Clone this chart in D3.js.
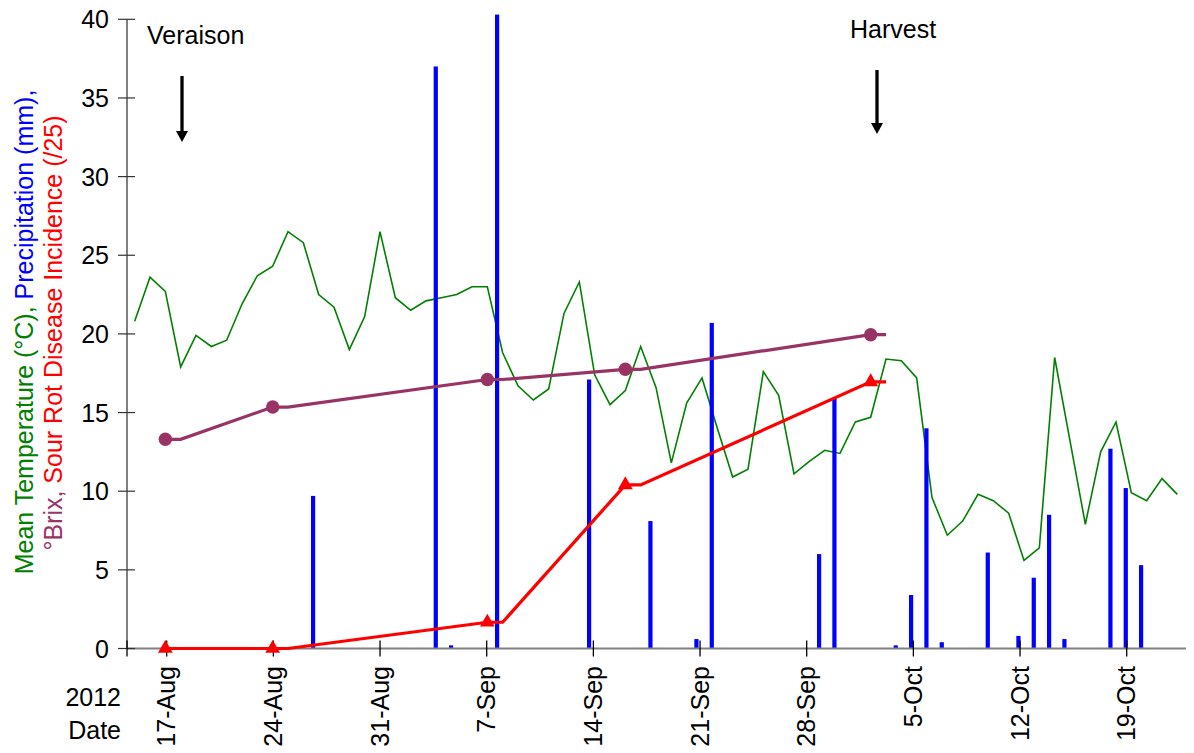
<!DOCTYPE html>
<html><head><meta charset="utf-8">
<script src="https://cdn.jsdelivr.net/npm/d3@7"></script>
<style>
html,body{margin:0;padding:0;background:#fff;}
svg{display:block;font-family:"Liberation Sans",Arial,sans-serif;}
</style></head>
<body>
<svg id="chart" width="1194" height="753"></svg>
<script>
// ---------------- data ----------------
const firstDay = "2012-08-15", lastDay = "2012-10-22";
// Mean daily temperature (°C), 15-Aug ... 22-Oct 2012
const temperature = [
  20.8,23.6,22.7,17.9,19.9,19.2,19.6,21.9,23.7,24.3,26.5,25.8,22.5,21.7,19.0,21.1,26.5, // Aug 15-31
  22.3,21.5,22.1,22.3,22.5,23.0,23.0,18.8,16.7,15.8,16.5,21.3,23.3,17.4,15.5,16.4,19.2,16.6,
  11.8,15.6,17.2,14.0,10.9,11.4,17.6,16.1,11.1,11.9,12.6,12.4,                           // Sep 1-30
  14.4,14.7,18.4,18.3,17.2,9.6,7.2,8.1,9.8,9.4,8.6,5.6,6.4,18.5,13.2,7.9,12.5,14.4,9.9,9.4,10.8,9.8 // Oct 1-22
];
const precipDates = ["2012-08-27","2012-09-04","2012-09-05","2012-09-08","2012-09-14","2012-09-18",
  "2012-09-21","2012-09-22","2012-09-29","2012-09-30","2012-10-04","2012-10-05","2012-10-06","2012-10-07",
  "2012-10-10","2012-10-12","2012-10-13","2012-10-14","2012-10-15","2012-10-18","2012-10-19","2012-10-20"];
const precipitation = [9.7,37.0,0.2,40.3,17.1,8.1,0.6,20.7,6.0,15.9,0.2,3.4,14.0,0.4,6.1,0.8,4.5,8.5,0.6,12.7,10.2,5.3];
const sampleDates = ["2012-08-17","2012-08-24","2012-09-07","2012-09-16","2012-10-02"];
const brix = [13.3,15.35,17.1,17.75,19.95];
const sourRot = [0,0,1.67,10.4,16.95];
const tickDates = ["2012-08-17","2012-08-24","2012-08-31","2012-09-07","2012-09-14","2012-09-21","2012-09-28","2012-10-05","2012-10-12","2012-10-19"];
const tickLabels = ["17-Aug","24-Aug","31-Aug","7-Sep","14-Sep","21-Sep","28-Sep","5-Oct","12-Oct","19-Oct"];
const yTicks = [0,5,10,15,20,25,30,35,40];

// ---------------- setup ----------------
const parse = d3.utcParse("%Y-%m-%d");
const fmt = d3.utcFormat("%Y-%m-%d");
const days = d3.utcDay.range(parse(firstDay), d3.utcDay.offset(parse(lastDay),1)).map(fmt);

const svg = d3.select("#chart");
const FONT = 25;
const x = d3.scaleBand().domain(days).range([127,1185]).padding(0);
const xc = d => x(d) + x.bandwidth()/2;
const xt = d3.scaleUtc().domain([parse("2012-08-17"), parse("2012-10-19")]).range([166.7,1126.7]);
const y = d3.scaleLinear().domain([0,40]).range([648.5,19.3]);
const nextDay = d => fmt(d3.utcDay.offset(parse(d),1));

// temperature line
svg.append("path")
  .datum(temperature.map((v,i)=>({d:days[i],v})))
  .attr("fill","none").attr("stroke","#008000").attr("stroke-width",1.6).attr("stroke-linejoin","miter")
  .attr("d", d3.line().x(p=>xc(p.d)).y(p=>y(p.v)));

// precipitation bars
svg.append("g").selectAll("rect").data(precipDates.map((d,i)=>({d,v:precipitation[i]})))
  .join("rect")
  .attr("x", p=>x(p.d)).attr("width",4.2)
  .attr("y", p=>y(p.v)).attr("height", p=>y(0)-y(p.v))
  .attr("fill","#0000FF");

// axes
const ax = svg.append("g");
ax.append("line").attr("x1",127).attr("x2",127).attr("y1",y(40)).attr("y2",y(0))
  .attr("stroke","#808080").attr("stroke-width",2);
ax.append("line").attr("x1",127).attr("x2",1186).attr("y1",y(0)).attr("y2",y(0))
  .attr("stroke","#808080").attr("stroke-width",2);
ax.selectAll(".yt").data(yTicks).join("line")
  .attr("x1",118).attr("x2",135).attr("y1",d=>y(d)).attr("y2",d=>y(d))
  .attr("stroke","#333").attr("stroke-width",1.2);
ax.selectAll(".ytl").data(yTicks).join("text")
  .attr("x",109).attr("y",d=>y(d)+9).attr("text-anchor","end")
  .attr("font-size",FONT).attr("fill","#000").text(d=>d);
ax.selectAll(".xt").data(tickDates).join("line")
  .attr("x1",d=>xt(parse(d))).attr("x2",d=>xt(parse(d)))
  .attr("y1",y(0)-8).attr("y2",y(0)+8)
  .attr("stroke","#000").attr("stroke-width",1.3);
ax.append("line").attr("x1",127).attr("x2",127).attr("y1",y(0)-8).attr("y2",y(0)+8)
  .attr("stroke","#000").attr("stroke-width",1.3);
ax.selectAll(".xtl").data(tickDates).join("text")
  .attr("transform",(d,i)=>`translate(${xt(parse(d))+8.5},${666}) rotate(-90)`)
  .attr("text-anchor","end").attr("font-size",FONT).attr("fill","#000")
  .text((d,i)=>tickLabels[i]);
svg.append("text").attr("x",121).attr("y",706).attr("text-anchor","end").attr("font-size",FONT).text("2012");
svg.append("text").attr("x",121).attr("y",739).attr("text-anchor","end").attr("font-size",FONT).text("Date");

// brix line
function stepPts(vals){
  const pts=[];
  sampleDates.forEach((d,i)=>{pts.push({d,v:vals[i]}); pts.push({d:nextDay(d),v:vals[i]});});
  return pts;
}
const line2 = d3.line().x(p=>xc(p.d)).y(p=>y(p.v));
svg.append("path").datum(stepPts(brix))
  .attr("fill","none").attr("stroke","#993366").attr("stroke-width",3.2).attr("d",line2);
svg.append("g").selectAll("circle").data(sampleDates.map((d,i)=>({d,v:brix[i]})))
  .join("circle").attr("cx",p=>xc(p.d)).attr("cy",p=>y(p.v)).attr("r",6.7).attr("fill","#993366");

// sour rot line
svg.append("path").datum(stepPts(sourRot))
  .attr("fill","none").attr("stroke","#FF0000").attr("stroke-width",3.2).attr("d",line2);
svg.append("g").selectAll("path").data(sampleDates.map((d,i)=>({d,v:sourRot[i]})))
  .join("path")
  .attr("transform",p=>`translate(${xc(p.d)},${y(p.v)})`)
  .attr("d", d3.symbol(d3.symbolTriangle, 95))
  .attr("fill","#FF0000");

// y-axis title
const t1 = svg.append("text").attr("transform","translate(33,332) rotate(-90)")
  .attr("text-anchor","middle").attr("font-size",FONT);
t1.append("tspan").attr("fill","#008000").text("Mean Temperature (°C), ");
t1.append("tspan").attr("fill","#0000FF").text("Precipitation (mm),");
const t2 = svg.append("text").attr("transform","translate(62,333) rotate(-90)")
  .attr("text-anchor","middle").attr("font-size",FONT);
t2.append("tspan").attr("fill","#993366").text("°Brix, ");
t2.append("tspan").attr("fill","#FF0000").text("Sour Rot Disease Incidence (/25)");

// annotations
function arrow(cx, y0, y1){
  svg.append("line").attr("x1",cx).attr("x2",cx).attr("y1",y0).attr("y2",y1-9)
    .attr("stroke","#000").attr("stroke-width",3.3);
  svg.append("path").attr("d",`M${cx-6},${y1-11}L${cx+6},${y1-11}L${cx},${y1}Z`).attr("fill","#000");
}
svg.append("text").attr("x",147).attr("y",44).attr("font-size",FONT).text("Veraison");
arrow(182, 76, 142);
svg.append("text").attr("x",850).attr("y",38).attr("font-size",FONT).text("Harvest");
arrow(877, 70, 134);
</script>
</body></html>
